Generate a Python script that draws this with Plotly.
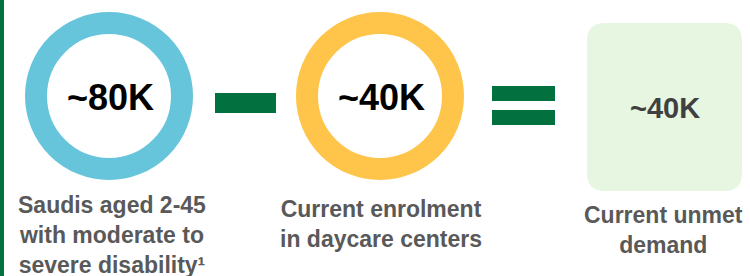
import plotly.graph_objects as go

# ---- data ----
values = ["~80K", "~40K", "~40K"]
labels = [
    "Saudis aged 2-45<br>with moderate to<br>severe disability¹",
    "Current enrolment<br>in daycare centers",
    "Current unmet<br>demand",
]

# ---- layout geometry (pixel-based data coords) ----
W, H = 750, 276
ring_cx = [109, 380]
ring_cy = 96
ring_r_out = 84
ring_r_in = 62
ring_colors = ["#67C5DB", "#FEC54A"]
green = "#03703F"
box = dict(x0=587, x1=742, y0=23, y1=191, r=18)
box_fill = "#E6F6E0"

fig = go.Figure()
shapes = []
annotations = []

# left accent bar
shapes.append(dict(type="rect", xref="x", yref="y", x0=0, x1=4, y0=0, y1=H,
                   fillcolor=green, line=dict(width=0), layer="below"))

# rings
rmid = (ring_r_out + ring_r_in) / 2
rw = ring_r_out - ring_r_in
for cx, col, val in zip(ring_cx, ring_colors, values[:2]):
    shapes.append(dict(type="circle", xref="x", yref="y",
                       x0=cx - rmid, x1=cx + rmid, y0=ring_cy - rmid, y1=ring_cy + rmid,
                       fillcolor="white", line=dict(color=col, width=rw)))
    annotations.append(dict(x=cx + 1, y=ring_cy + 1, xref="x", yref="y", text="<b>" + val + "</b>",
                            showarrow=False, xanchor="center", yanchor="middle",
                            font=dict(family="Liberation Sans", size=36, color="#000000")))

# minus sign
shapes.append(dict(type="rect", xref="x", yref="y", x0=215, x1=276, y0=93, y1=113,
                   fillcolor=green, line=dict(width=0)))
# equals sign
shapes.append(dict(type="rect", xref="x", yref="y", x0=492, x1=555, y0=86, y1=101,
                   fillcolor=green, line=dict(width=0)))
shapes.append(dict(type="rect", xref="x", yref="y", x0=492, x1=555, y0=110, y1=125,
                   fillcolor=green, line=dict(width=0)))

# rounded box
x0, x1, y0, y1, r = box["x0"], box["x1"], box["y0"], box["y1"], box["r"]
path = (f"M {x0+r},{y0} L {x1-r},{y0} Q {x1},{y0} {x1},{y0+r} "
        f"L {x1},{y1-r} Q {x1},{y1} {x1-r},{y1} L {x0+r},{y1} "
        f"Q {x0},{y1} {x0},{y1-r} L {x0},{y0+r} Q {x0},{y0} {x0+r},{y0} Z")
shapes.append(dict(type="path", xref="x", yref="y", path=path,
                   fillcolor=box_fill, line=dict(width=0)))
annotations.append(dict(x=(x0 + x1) / 2, y=108, xref="x", yref="y", text="<b>" + values[2] + "</b>",
                        showarrow=False, xanchor="center", yanchor="middle",
                        font=dict(family="Liberation Sans", size=29, color="#404040")))

# labels
label_x = [112, 381, 663]
label_y = [235, 224, 230]
for lx, ly, lt in zip(label_x, label_y, labels):
    annotations.append(dict(x=lx, y=ly, xref="x", yref="y", text="<b>" + lt + "</b>",
                            showarrow=False, xanchor="center", yanchor="middle", align="center",
                            font=dict(family="Liberation Sans", size=23, color="#595959")))

fig.update_layout(
    width=W, height=H, margin=dict(l=0, r=0, t=0, b=0),
    paper_bgcolor="white", plot_bgcolor="white",
    xaxis=dict(range=[0, W], visible=False, fixedrange=True),
    yaxis=dict(range=[H, 0], visible=False, fixedrange=True),
    shapes=shapes, annotations=annotations, showlegend=False,
)
fig.write_html("out.html", config={"displayModeBar": False},
               post_script="document.body.style.margin='0';document.body.style.overflow='hidden';")
